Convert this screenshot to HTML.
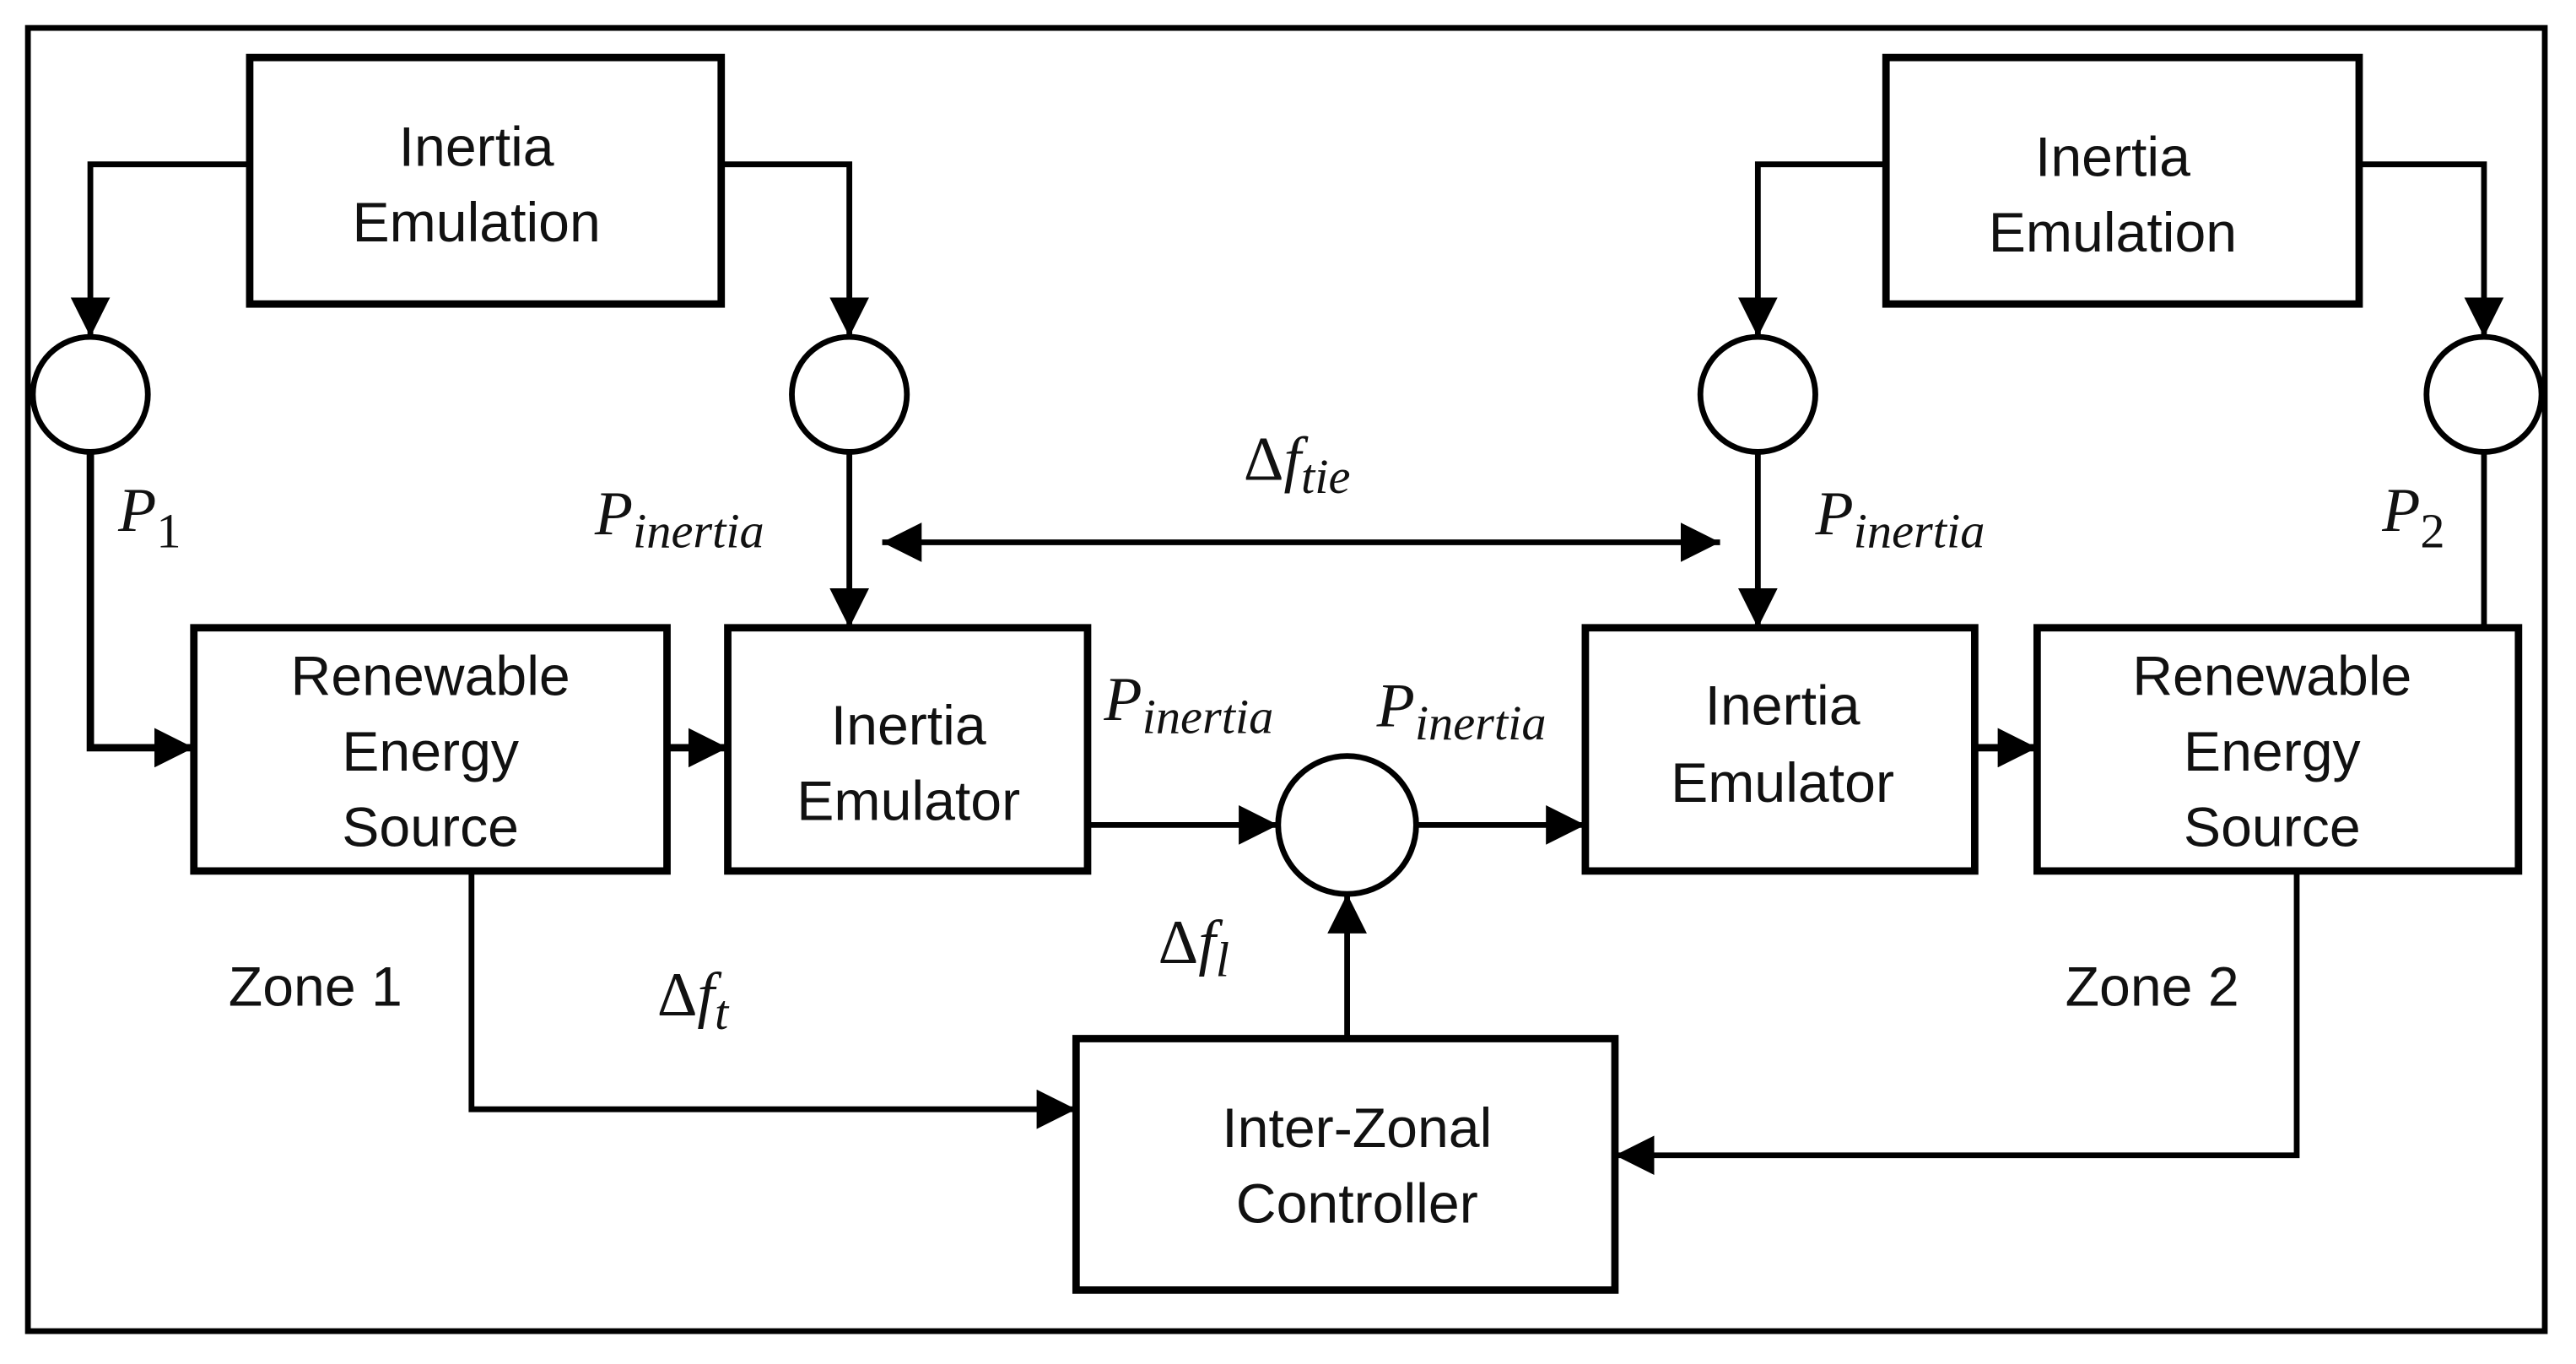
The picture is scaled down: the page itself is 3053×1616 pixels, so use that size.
<!DOCTYPE html>
<html><head><meta charset="utf-8"><style>
html,body{margin:0;padding:0;background:#fff}
svg{display:block}
.t{font-family:"Liberation Sans",sans-serif;font-size:34px;fill:#111}
.m{font-family:"Liberation Serif",serif;font-style:italic;font-size:38px;fill:#111}
.s{font-size:30px}
</style></head><body>
<svg width="3053" height="1616" viewBox="0 0 1568 830" preserveAspectRatio="none" xmlns="http://www.w3.org/2000/svg">
<defs>
<marker id="A" viewBox="0 0 10 10" refX="10" refY="5" markerWidth="24" markerHeight="24" markerUnits="userSpaceOnUse" orient="auto-start-reverse"><path d="M0,0L10,5L0,10z" fill="#000"/></marker></defs>
<rect x="17" y="17" width="1532" height="793" fill="none" stroke="#000" stroke-width="3.5"/>
<g fill="none" stroke="#000" stroke-width="4.5">
<rect x="152" y="35" width="287" height="150"/>
<rect x="1148" y="35" width="288" height="150"/>
<rect x="118" y="382" width="288" height="148"/>
<rect x="443" y="382" width="219" height="148"/>
<rect x="965" y="382" width="237" height="148"/>
<rect x="1240" y="382" width="293" height="148"/>
<rect x="655" y="632" width="328" height="153"/>
<circle cx="55" cy="240" r="35" stroke-width="3.5"/>
<circle cx="517" cy="240" r="35" stroke-width="3.5"/>
<circle cx="1070" cy="240" r="35" stroke-width="3.5"/>
<circle cx="1512" cy="240" r="35" stroke-width="3.5"/>
<circle cx="820" cy="502" r="42" stroke-width="3.5"/>
</g>
<g fill="none" stroke="#000" stroke-width="3.5">
<path d="M152,100H55V205" marker-end="url(#A)"/>
<path d="M439,100H517V205" marker-end="url(#A)"/>
<path d="M1148,100H1070V205" marker-end="url(#A)"/>
<path d="M1436,100H1512V205" marker-end="url(#A)"/>
<path d="M55,275V455H118" marker-end="url(#A)" stroke-width="4.5"/>
<path d="M406,455H443" marker-end="url(#A)" stroke-width="4.5"/>
<path d="M517,275V382" marker-end="url(#A)"/>
<path d="M1070,275V382" marker-end="url(#A)"/>
<path d="M1512,275V382"/>
<path d="M1202,455H1240" marker-end="url(#A)" stroke-width="4.5"/>
<path d="M537,330H1047" marker-start="url(#A)" marker-end="url(#A)"/>
<path d="M662,502H778" marker-end="url(#A)"/>
<path d="M862,502H965" marker-end="url(#A)"/>
<path d="M820,632V544" marker-end="url(#A)"/>
<path d="M287,530V675H655" marker-end="url(#A)"/>
<path d="M1398,530V703H983" marker-end="url(#A)"/>
</g>
<g class="t" text-anchor="middle">
<text x="290" y="101">Inertia</text><text x="290" y="147">Emulation</text>
<text x="1286" y="107">Inertia</text><text x="1286" y="153">Emulation</text>
<text x="262" y="423">Renewable</text><text x="262" y="469">Energy</text><text x="262" y="515">Source</text>
<text x="553" y="453">Inertia</text><text x="553" y="499">Emulator</text>
<text x="1085" y="441">Inertia</text><text x="1085" y="488">Emulator</text>
<text x="1383" y="423">Renewable</text><text x="1383" y="469">Energy</text><text x="1383" y="515">Source</text>
<text x="826" y="698">Inter-Zonal</text><text x="826" y="744">Controller</text>
<text x="192" y="612">Zone 1</text><text x="1310" y="612">Zone 2</text>
</g>
<g class="m">
<text x="72" y="323">P<tspan class="s" dy="10" font-style="normal">1</tspan></text>
<text x="1450" y="323">P<tspan class="s" dy="10" font-style="normal">2</tspan></text>
<text x="362" y="325">P<tspan class="s" dy="8">inertia</tspan></text>
<text x="1105" y="325">P<tspan class="s" dy="8">inertia</tspan></text>
<text x="672" y="438">P<tspan class="s" dy="8">inertia</tspan></text>
<text x="838" y="442">P<tspan class="s" dy="8">inertia</tspan></text>
<text x="757" y="292"><tspan font-style="normal">Δ</tspan>f<tspan class="s" dy="8">tie</tspan></text>
<text x="400" y="618"><tspan font-style="normal">Δ</tspan>f<tspan class="s" dy="8">t</tspan></text>
<text x="705" y="586"><tspan font-style="normal">Δ</tspan>f<tspan class="s" dy="8">l</tspan></text>
</g>
</svg>
</body></html>
